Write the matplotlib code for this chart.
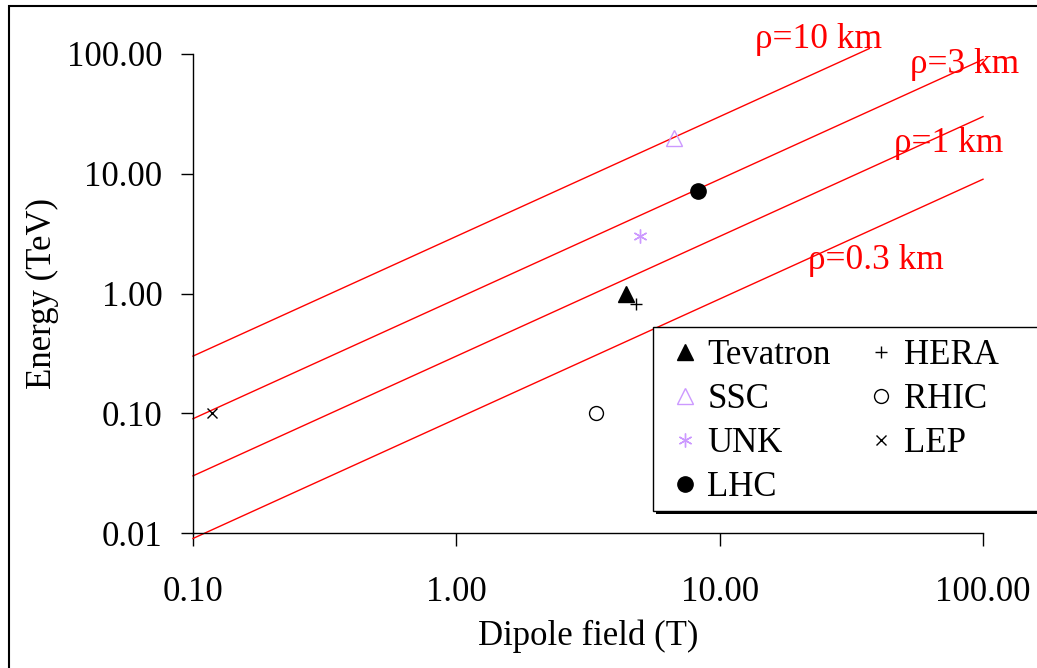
import numpy as np
import matplotlib.pyplot as plt
from matplotlib.ticker import FixedLocator, FixedFormatter, NullLocator
from matplotlib.patches import Rectangle

plt.rcParams['font.family'] = ['Liberation Serif', 'DejaVu Serif']

# bending radius lines, E[TeV] vs B[T] (end points)
rho_labels = ['\u03c1=10 km', '\u03c1=3 km', '\u03c1=1 km', '\u03c1=0.3 km']
rho_B = [[0.1, 37.0], [0.1, 100.0], [0.1, 100.0], [0.1, 100.0]]
rho_E = [[0.3, 111.0], [0.09, 90.0], [0.03, 30.0], [0.009, 9.0]]

# machines
names = ['Tevatron', 'SSC', 'UNK', 'LHC', 'HERA', 'RHIC', 'LEP']
field = [4.4, 6.7, 5.0, 8.3, 4.8, 3.4, 0.118]
energy = [1.0, 20.0, 3.0, 7.2, 0.82, 0.1, 0.1]

xticks = [0.1, 1, 10, 100]
xticklabels = ['0.10', '1.00', '10.00', '100.00']
yticks = [0.01, 0.1, 1, 10, 100]
yticklabels = ['0.01', '0.10', '1.00', '10.00', '100.00']

lav = '#CC99FF'
styles = {
    'Tevatron': dict(marker='^', ms=11, mfc='k', mec='k'),
    'SSC': dict(marker='^', ms=11, mfc='none', mec=lav, mew=1.0),
    'UNK': dict(marker=(6, 2, 0), ms=10, mfc=lav, mec=lav, mew=1.0),
    'LHC': dict(marker='o', ms=11, mfc='k', mec='k'),
    'HERA': dict(marker='+', ms=9, mfc='k', mec='k', mew=1.0),
    'RHIC': dict(marker='o', ms=10, mfc='none', mec='k', mew=1.0),
    'LEP': dict(marker='x', ms=7, mfc='k', mec='k', mew=1.0),
}

W, H = 1037, 668
fig = plt.figure(figsize=(W / 100, H / 100), dpi=100)
ax = fig.add_axes([193 / W, 1 - 533 / H, (983 - 193) / W, (533 - 54) / H])
ax.set_xscale('log')
ax.set_yscale('log')
ax.set_xlim(0.1, 100)
ax.set_ylim(0.01, 100)

for xs, ys in zip(rho_B, rho_E):
    ax.plot(xs, ys, color='#FF0000', lw=1.0, clip_on=False, zorder=2)

# label positions (layout, not data)
lab_pos = [(13.6, 112), (52.6, 69.5), (46.1, 15.3), (21.6, 1.61)]
for lab, (lx, ly) in zip(rho_labels, lab_pos):
    ax.text(lx, ly, lab, color='#FF0000', fontsize=25.5, ha='left', va='baseline',
            clip_on=False, zorder=1)

handles = []
for n, b, e in zip(names, field, energy):
    h, = ax.plot([b], [e], ls='none', label=n, clip_on=False, zorder=3, **styles[n])
    handles.append(h)

for s in ['top', 'right']:
    ax.spines[s].set_visible(False)
for s in ['left', 'bottom']:
    ax.spines[s].set_linewidth(1.0)

ax.xaxis.set_major_locator(FixedLocator(xticks))
ax.xaxis.set_major_formatter(FixedFormatter(xticklabels))
ax.yaxis.set_major_locator(FixedLocator(yticks))
ax.yaxis.set_major_formatter(FixedFormatter(yticklabels))
ax.xaxis.set_minor_locator(NullLocator())
ax.yaxis.set_minor_locator(NullLocator())
ax.tick_params(axis='x', direction='out', length=9, width=1.0, pad=22, labelsize=25)
ax.tick_params(axis='y', direction='out', length=9, width=1.0, pad=13, labelsize=25)

ax.set_xlabel('Dipole field (T)', fontsize=25)
ax.set_ylabel('Energy (TeV)', fontsize=25)
ax.xaxis.set_label_coords(0.5, -0.18)
ax.yaxis.set_label_coords(-0.17, 0.5)

# legend box with solid shadow
fig.patches.append(Rectangle((656 / W, 1 - 514 / H), 400 / W, (514 - 330) / H,
                             transform=fig.transFigure, fc='k', ec='none', zorder=5))
fig.patches.append(Rectangle((653 / W, 1 - 511 / H), 400 / W, (511 - 327) / H,
                             transform=fig.transFigure, fc='white', ec='k', lw=1.0, zorder=6))
leg = fig.legend(handles=handles, ncol=2, loc='upper left',
                 bbox_to_anchor=(671 / W, 1 - 339 / H), frameon=False,
                 fontsize=25, borderpad=0, borderaxespad=0, handlelength=0.8,
                 handletextpad=0.25, columnspacing=1.05, labelspacing=0.32)
leg.set_zorder(7)

# outer frame
fig.patches.append(Rectangle((9 / W, -0.1), 1.2, 1.1 - 6 / H,
                             transform=fig.transFigure, fill=False, ec='k', lw=1.5,
                             zorder=0))

fig.savefig('out.png', dpi=100)
